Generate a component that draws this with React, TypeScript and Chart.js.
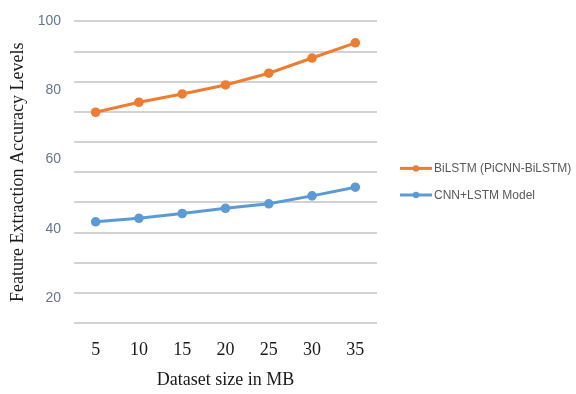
import React, { useEffect, useRef } from "react";
import { Chart, registerables } from "chart.js";

Chart.register(...registerables);

const categories = ["5", "10", "15", "20", "25", "30", "35"];
const bilstmLabel = "BiLSTM (PiCNN-BiLSTM)";
const bilstmValues = [73.7, 76.6, 79.0, 81.6, 85.0, 89.4, 93.8];
const cnnLstmLabel = "CNN+LSTM Model";
const cnnLstmValues = [42.0, 43.0, 44.4, 45.9, 47.2, 49.5, 52.0];
const yTickLabels = [20, 40, 60, 80, 100];
const gridMin = 0;
const gridMax = 100;
const gridStep = 10;

const ORANGE = "#ED7D31";
const BLUE = "#5B9BD5";
const SERIF = '"Liberation Serif", "Times New Roman", serif';
const SANS = '"Liberation Sans", Arial, sans-serif';

const sideLegend = {
  id: "sideLegend",
  afterDraw(chart: any) {
    const { ctx, chartArea } = chart;
    const x0 = chartArea.right + 23;
    const yMid = (chartArea.top + chartArea.bottom) / 2 + 9.5;
    const gap = 26.6;
    const n = chart.data.datasets.length;
    chart.data.datasets.forEach((ds: any, i: number) => {
      const y = yMid - ((n - 1) * gap) / 2 + i * gap;
      ctx.save();
      ctx.strokeStyle = ds.borderColor;
      ctx.lineWidth = 3;
      ctx.beginPath();
      ctx.moveTo(x0, y);
      ctx.lineTo(x0 + 32, y);
      ctx.stroke();
      ctx.fillStyle = ds.borderColor;
      ctx.beginPath();
      ctx.arc(x0 + 16, y, 3.2, 0, Math.PI * 2);
      ctx.fill();
      ctx.fillStyle = "#595959";
      ctx.font = `12px ${SANS}`;
      ctx.textBaseline = "middle";
      ctx.textAlign = "left";
      ctx.fillText(ds.label, x0 + 34, y + 0.5);
      ctx.restore();
    });
  },
};

export default function App() {
  const ref = useRef<HTMLCanvasElement | null>(null);

  useEffect(() => {
    if (!ref.current) return;
    const chart = new Chart(ref.current, {
      type: "line",
      data: {
        labels: categories,
        datasets: [
          {
            label: bilstmLabel,
            data: bilstmValues,
            borderColor: ORANGE,
            backgroundColor: ORANGE,
            borderWidth: 3,
            pointRadius: 3.3,
            pointBackgroundColor: ORANGE,
            pointBorderColor: ORANGE,
            tension: 0,
            yAxisID: "y",
          },
          {
            label: cnnLstmLabel,
            data: cnnLstmValues,
            borderColor: BLUE,
            backgroundColor: BLUE,
            borderWidth: 3,
            pointRadius: 3.3,
            pointBackgroundColor: BLUE,
            pointBorderColor: BLUE,
            tension: 0,
            yAxisID: "y",
          },
        ],
      },
      options: {
        responsive: false,
        animation: false,
        layout: { padding: { left: 0, top: 18, right: 199, bottom: 0 } },
        plugins: {
          legend: { display: false },
          tooltip: { enabled: false },
        },
        scales: {
          x: {
            offset: true,
            grid: { display: false, drawTicks: false },
            border: { display: false },
            ticks: {
              color: "#1a1a1a",
              font: { family: SERIF, size: 18 },
              padding: 16,
            },
            title: {
              display: true,
              text: "Dataset size in MB",
              color: "#1a1a1a",
              font: { family: SERIF, size: 18 },
              padding: { top: 4, bottom: 3 },
            },
            afterFit: (scale: any) => {
              scale.height = 71;
            },
          },
          y: {
            position: "left",
            min: 12.7,
            max: 100,
            grid: { display: false, drawTicks: false },
            border: { display: false },
            afterBuildTicks: (scale: any) => {
              scale.ticks = yTickLabels.map((v) => ({ value: v }));
            },
            ticks: {
              color: "#66768c",
              font: { family: SANS, size: 14 },
              padding: 13,
            },
            title: {
              display: true,
              text: "Feature Extraction Accuracy Levels",
              color: "#1a1a1a",
              font: { family: SERIF, size: 18 },
              padding: { top: 7, bottom: 0 },
            },
            afterFit: (scale: any) => {
              scale.width = 74;
            },
          },
          g: {
            type: "linear",
            position: "right",
            min: gridMin,
            max: gridMax,
            ticks: { display: false, stepSize: gridStep },
            grid: { color: "#d2d2d2", lineWidth: 2, drawTicks: false },
            border: { display: false },
            afterFit: (scale: any) => {
              scale.width = 0;
            },
          },
        },
      },
      plugins: [sideLegend],
    });
    return () => chart.destroy();
  }, []);

  return (
    <div style={{ position: "absolute", left: 0, top: 0, width: 576, height: 394, background: "#fff" }}>
      <canvas ref={ref} width={576} height={394} />
    </div>
  );
}
